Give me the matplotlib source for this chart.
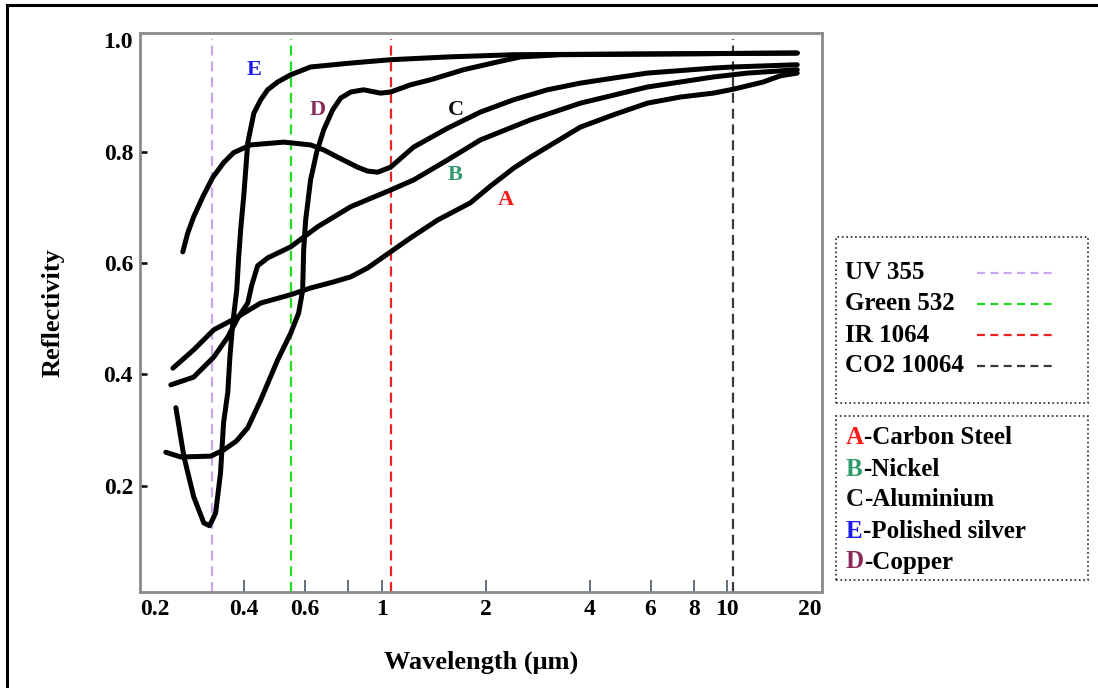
import matplotlib
matplotlib.use('Agg')
import matplotlib.pyplot as plt
from matplotlib.patches import Rectangle
from matplotlib.lines import Line2D
from matplotlib.ticker import NullLocator

plt.rcParams['font.family'] = ['Liberation Serif', 'DejaVu Serif']
plt.rcParams['font.weight'] = 'bold'
plt.rcParams['axes.labelweight'] = 'bold'

# reflectivity curves, wavelength in um
steel_wl = [0.249, 0.286, 0.327, 0.371, 0.447, 0.546, 0.623, 0.727, 0.814, 0.911, 1.062,
            1.213, 1.452, 1.807, 2.065, 2.407, 2.696, 3.760, 4.683, 5.873, 7.313, 9.112,
            10.41, 12.71, 14.23, 15.94]
steel_r = [0.411, 0.444, 0.480, 0.498, 0.528, 0.543, 0.555, 0.566, 0.575, 0.591, 0.620,
           0.645, 0.677, 0.708, 0.738, 0.770, 0.790, 0.844, 0.866, 0.887, 0.898, 0.905,
           0.912, 0.925, 0.936, 0.941]

nickel_wl = [0.2456, 0.286, 0.327, 0.359, 0.3835, 0.410, 0.421, 0.438, 0.453, 0.468, 0.546,
             0.653, 0.814, 1.062, 1.237, 1.552, 1.932, 2.696, 3.760, 5.873, 9.112, 11.43, 15.94]
nickel_r = [0.381, 0.395, 0.431, 0.467, 0.501, 0.528, 0.560, 0.595, 0.602, 0.609, 0.629,
            0.665, 0.701, 0.731, 0.749, 0.785, 0.821, 0.857, 0.887, 0.916, 0.934, 0.941, 0.947]

alu_wl = [0.266, 0.275, 0.286, 0.304, 0.325, 0.349, 0.373, 0.418, 0.521, 0.623, 0.680, 0.746,
          0.852, 0.911, 0.974, 1.062, 1.237, 1.552, 1.932, 2.407, 3.018, 3.760, 4.683, 5.873,
          9.112, 10.41, 15.94]
alu_r = [0.620, 0.654, 0.683, 0.719, 0.754, 0.780, 0.798, 0.812, 0.817, 0.812, 0.803, 0.790,
         0.772, 0.765, 0.763, 0.772, 0.808, 0.842, 0.871, 0.893, 0.911, 0.923, 0.932, 0.941,
         0.950, 0.952, 0.956]

silver_wl = [0.254, 0.268, 0.286, 0.306, 0.318, 0.331, 0.342, 0.349, 0.359, 0.364, 0.371,
             0.381, 0.386, 0.391, 0.399, 0.4045, 0.410, 0.427, 0.447, 0.468, 0.5005, 0.546,
             0.623, 0.814, 1.062, 1.552, 2.407, 15.94]
silver_r = [0.340, 0.252, 0.180, 0.133, 0.128, 0.151, 0.223, 0.313, 0.368, 0.431, 0.492,
            0.551, 0.611, 0.659, 0.719, 0.767, 0.816, 0.869, 0.893, 0.911, 0.925, 0.938,
            0.952, 0.959, 0.965, 0.970, 0.974, 0.977]

copper_wl = [0.2375, 0.2625, 0.3205, 0.349, 0.380, 0.410, 0.447, 0.5005, 0.546, 0.5755, 0.591,
             0.595, 0.603, 0.623, 0.649, 0.680, 0.722, 0.761, 0.814, 0.887, 0.993, 1.062,
             1.213, 1.386, 1.726, 2.164, 2.522, 3.29, 15.94]
copper_r = [0.260, 0.2515, 0.253, 0.264, 0.280, 0.304, 0.354, 0.426, 0.474, 0.510, 0.551,
            0.623, 0.677, 0.749, 0.799, 0.839, 0.875, 0.896, 0.907, 0.911, 0.905, 0.907,
            0.920, 0.929, 0.947, 0.961, 0.970, 0.974, 0.977]

laser_names = ['UV 355', 'Green 532', 'IR 1064', 'CO2 10064']
laser_wl = [0.323, 0.546, 1.062, 10.41]
laser_colors = ['#c9a6f2', '#22dd22', '#ee2222', '#3a3a3a']

metal_letters = ['A', 'B', 'C', 'E', 'D']
metal_names = ['Carbon Steel', 'Nickel', 'Aluminium', 'Polished silver', 'Copper']
metal_colors = ['#ff1a1a', '#2e9a6a', '#111111', '#1a1aee', '#8b2a5a']
# where the letters sit on the chart (wavelength, reflectivity)
letter_pos = [(2.283, 0.713), (1.636, 0.758), (1.636, 0.875), (0.427, 0.947), (0.653, 0.875)]

xtick_vals = [0.2, 0.4, 0.6, 0.8, 1, 2, 4, 6, 8, 10, 18.8]
xtick_labels = ['0.2', '0.4', '0.6', '', '1', '2', '4', '6', '8', '10', '20']
ytick_vals = [0.2, 0.4, 0.6, 0.8, 1.0]
ytick_labels = ['0.2', '0.4', '0.6', '0.8', '1.0']

W, H = 1098, 688
fig = plt.figure(figsize=(W / 100, H / 100), dpi=100)
ax = fig.add_axes([140 / W, 1 - 592 / H, 682 / W, 559 / H])

for wl, c in zip(laser_wl, laser_colors):
    ax.axvline(wl, ymin=0, ymax=0.99, color=c, lw=1.6, dashes=(4.5, 2.6), zorder=1)

for wl, r in [(steel_wl, steel_r), (nickel_wl, nickel_r), (alu_wl, alu_r),
              (silver_wl, silver_r), (copper_wl, copper_r)]:
    ax.plot(wl, r, color='black', lw=3.6, solid_joinstyle='round',
            solid_capstyle='round', zorder=3)

for (x, y), letter, c in zip(letter_pos, metal_letters, metal_colors):
    ax.text(x, y, letter, color=c, fontsize=16, ha='center', va='center', zorder=4)

ax.set_xscale('log')
ax.set_xlim(0.201, 18.8)
ax.set_ylim(0.009, 1.013)
ax.xaxis.set_minor_locator(NullLocator())
ax.set_xticks(xtick_vals)
ax.set_xticklabels(xtick_labels)
ax.set_yticks(ytick_vals)
ax.set_yticklabels(ytick_labels)
ax.tick_params(axis='x', direction='in', length=9, width=1.2, color='#4a5566',
               labelsize=17, pad=5)
ax.tick_params(axis='y', direction='in', length=5, width=1.8, color='black',
               labelsize=17, pad=5)
xt = ax.xaxis.get_major_ticks()
xt[0].tick1line.set_visible(False)
xt[-1].tick1line.set_visible(False)
xt[0].label1.set_horizontalalignment('left')
xt[-1].label1.set_horizontalalignment('right')
ax.yaxis.get_major_ticks()[-1].tick1line.set_visible(False)

for s in ax.spines.values():
    s.set_color('#8a8a8a')
    s.set_linewidth(2)

ax.set_xlabel('Wavelength (\u03bcm)', fontsize=19, labelpad=22)
ax.set_ylabel('Reflectivity', fontsize=19, labelpad=28)

# outer frame (only its top and left edges fall inside the image)
fig.add_artist(Rectangle((7 / W, -0.1), 1.2, 1 - 5 / H + 0.1, transform=fig.transFigure,
                         fill=False, lw=2.2, ec='black'))

# laser legend box
fig.add_artist(Rectangle((836 / W, 1 - 403 / H), 252 / W, 166 / H, transform=fig.transFigure,
                         fill=False, lw=1.2, ls=':', ec='#222222'))
for i, (name, c) in enumerate(zip(laser_names, laser_colors)):
    yy = 1 - (273 + i * 31) / H
    fig.text(845 / W, yy, name, fontsize=18, va='center', ha='left')
    fig.add_artist(Line2D([977 / W, 1055 / W], [yy, yy], transform=fig.transFigure,
                          color=c, lw=1.6, dashes=(3.6, 2.4)))

# material legend box
fig.add_artist(Rectangle((836 / W, 1 - 580 / H), 252 / W, 164 / H, transform=fig.transFigure,
                         fill=False, lw=1.2, ls=':', ec='#222222'))
for i, (letter, name, c) in enumerate(zip(metal_letters, metal_names, metal_colors)):
    yy = 1 - (438 + i * 31) / H
    t = fig.text(846 / W, yy, letter, color=c, fontsize=18, va='center', ha='left')
    ax.annotate('-' + name, xy=(1, 0), xycoords=t, fontsize=18, va='bottom', ha='left',
                annotation_clip=False)

fig.savefig('out.png', dpi=100)
